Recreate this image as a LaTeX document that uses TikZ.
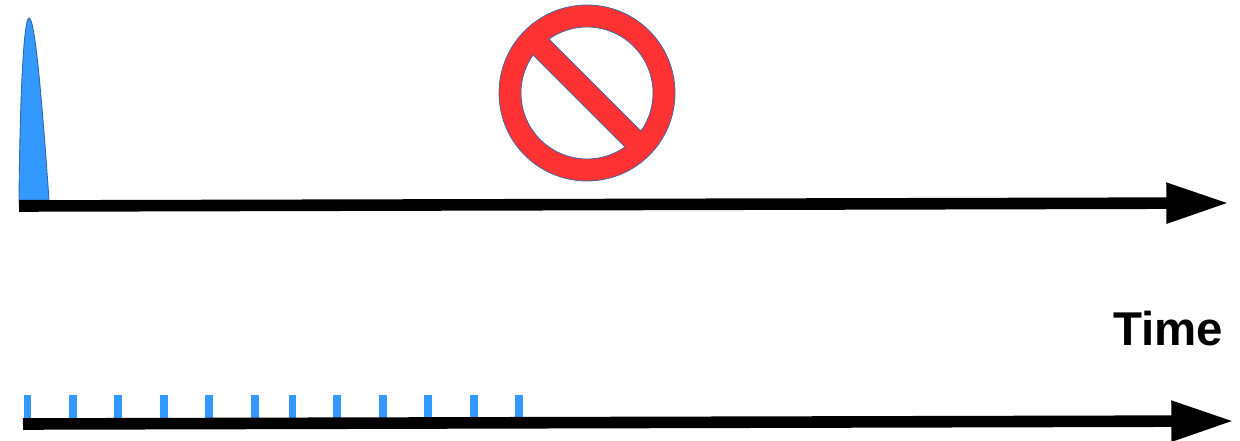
\documentclass[tikz,border=0pt]{standalone}
\usepackage{fontspec}
\setmainfont{Liberation Sans}
\usepackage{xcolor}
\usepackage{tikz}
\usetikzlibrary{arrows.meta}

\definecolor{pulseblue}{HTML}{3399FF}
\definecolor{stopred}{HTML}{FF3333}
\definecolor{edgeblue}{HTML}{3465A4}

\begin{document}
\begin{tikzpicture}[
  x=0.02cm, y=0.02cm,
  axis/.style={-{Triangle[length=35.7pt, width=21.6pt]}, line width=6.6pt, color=black},
  pulse/.style={fill=pulseblue, draw=edgeblue, line width=0.5pt},
  stopsign/.style={fill=stopred, draw=edgeblue, line width=0.4pt, even odd rule},
  tick/.style={rectangle, fill=pulseblue, inner sep=0pt, minimum width=4.4pt,
             minimum height=13pt, anchor=south},
  timelabel/.style={font=\bfseries\fontsize{27}{31}\selectfont, inner sep=0pt, anchor=base}
]
\useasboundingbox (0,0) rectangle (1240,440);

% single long pulse
\draw[pulse] (19,240) .. controls (20,350) and (24,422) .. (29,422)
  .. controls (35,422) and (42,340) .. (49,240) -- cycle;

% stop sign
\coordinate (sign) at (587,347);
\draw[stopsign] (sign) circle[radius=88]
  (sign) ++(-35.2:66) arc[start angle=-35.2, end angle=125.2, radius=66] -- cycle
  (sign) ++(144.8:66) arc[start angle=144.8, end angle=305.2, radius=66] -- cycle;

% short pulses
\foreach \x [count=\i] in {27.5,73,118,164,209,255,292.5,337,383,428,474,519}
  \node[tick] (tick\i) at (\x,22) {};

% time axes
\coordinate (topstart) at (19,234);
\coordinate (topend) at (1229,237);
\coordinate (lowstart) at (23,16);
\coordinate (lowend) at (1234,19);
\draw[axis] (topstart) -- (topend);
\draw[axis] (lowstart) -- (lowend);

\node[timelabel] (time) at (1168,95) {Time};

\end{tikzpicture}
\end{document}
